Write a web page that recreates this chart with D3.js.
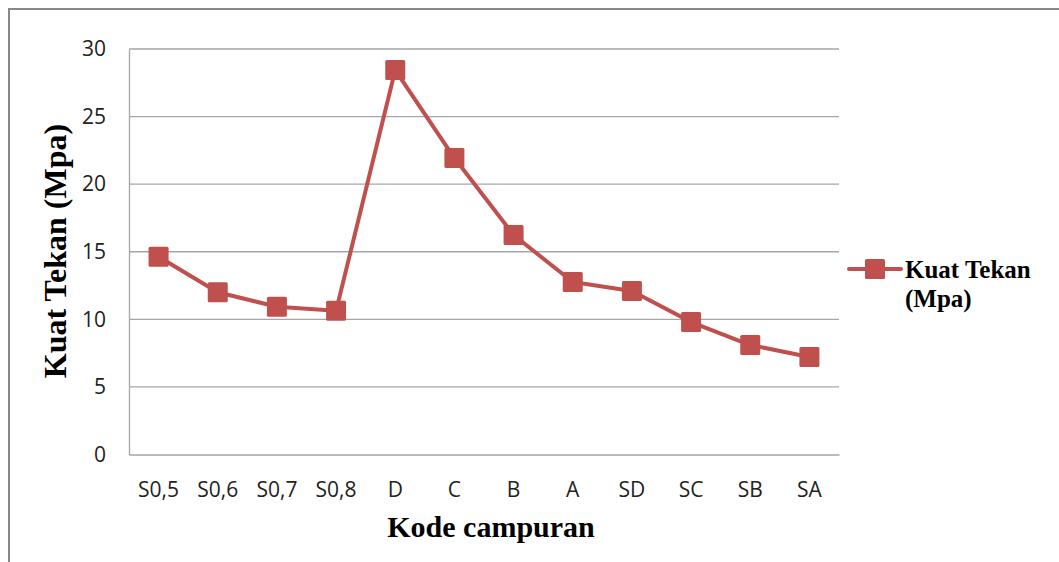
<!DOCTYPE html>
<meta charset="utf-8">
<style>
body { margin: 0; background: #fff; }
.tick text { font-family: "Open Sans", "Noto Sans", sans-serif; font-size: 21px; fill: #222; }
.title { font-family: "Liberation Serif", "Times New Roman", serif; font-weight: bold; fill: #000; }
</style>
<body>
<svg width="1059" height="562"></svg>
<script src="https://cdnjs.cloudflare.com/ajax/libs/d3/7.8.5/d3.min.js"></script>
<script>

var kode = ["S0,5", "S0,6", "S0,7", "S0,8", "D", "C", "B", "A", "SD", "SC", "SB", "SA"];
var kuatTekan = [14.63, 12.0, 10.93, 10.64, 28.44, 21.93, 16.24, 12.76, 12.09, 9.8, 8.1, 7.21];
var yTicks = [0, 5, 10, 15, 20, 25, 30];

var svg = d3.select("svg");
var red = "#c0504d";

// outer chart frame
svg.append("rect")
  .attr("x", 9).attr("y", 9)
  .attr("width", 1070).attr("height", 580)
  .attr("fill", "none").attr("stroke", "#888").attr("stroke-width", 2);

var plotLeft = 129, plotRight = 839, plotTop = 49, plotBottom = 454.5;

var x = d3.scaleBand().domain(kode).range([plotLeft, plotRight]);
var y = d3.scaleLinear().domain([0, 30]).range([plotBottom, plotTop]);

// gridlines
svg.append("g").selectAll("line")
  .data(yTicks.slice(1))
  .enter().append("line")
  .attr("x1", plotLeft).attr("x2", plotRight)
  .attr("y1", d => y(d)).attr("y2", d => y(d))
  .attr("stroke", "#a6a6a6").attr("stroke-width", 1.3);

var yAxis = svg.append("g")
  .attr("transform", "translate(" + plotLeft + ",0)")
  .call(d3.axisLeft(y).tickValues(yTicks).tickSize(0).tickPadding(23));
yAxis.select(".domain").attr("stroke", "#a6a6a6").attr("stroke-width", 1.3);

var xAxis = svg.append("g")
  .attr("transform", "translate(0," + plotBottom + ")")
  .call(d3.axisBottom(x).tickSize(0).tickPadding(28));
xAxis.select(".domain").attr("stroke", "#a6a6a6").attr("stroke-width", 1.3);

// series line
var line = d3.line()
  .x((d, i) => x(kode[i]) + x.bandwidth() / 2)
  .y(d => y(d));

svg.append("path")
  .datum(kuatTekan)
  .attr("d", line)
  .attr("fill", "none")
  .attr("stroke", red)
  .attr("stroke-width", 4)
  .attr("stroke-linejoin", "round");

var ms = 20;
svg.append("g").selectAll("rect")
  .data(kuatTekan)
  .enter().append("rect")
  .attr("x", (d, i) => x(kode[i]) + x.bandwidth() / 2 - ms / 2)
  .attr("y", d => y(d) - ms / 2)
  .attr("width", ms).attr("height", ms)
  .attr("rx", 1.5)
  .attr("fill", red);

// axis titles
svg.append("text")
  .attr("class", "title")
  .attr("x", 491).attr("y", 537)
  .attr("text-anchor", "middle")
  .style("font-size", "30px")
  .text("Kode campuran");

svg.append("text")
  .attr("class", "title")
  .attr("transform", "translate(66,251) rotate(-90)")
  .attr("text-anchor", "middle")
  .style("font-size", "32px")
  .text("Kuat Tekan (Mpa)");

// legend
var lg = svg.append("g").attr("transform", "translate(849,269)");
lg.append("line").attr("x1", 0).attr("x2", 52).attr("y1", 0).attr("y2", 0)
  .attr("stroke", red).attr("stroke-width", 4).attr("stroke-linecap", "round");
lg.append("rect").attr("x", 16).attr("y", -10).attr("width", 20).attr("height", 20)
  .attr("rx", 1.5).attr("fill", red);
lg.append("text").attr("class", "title").attr("x", 56).attr("y", 9)
  .style("font-size", "25px").text("Kuat Tekan");
lg.append("text").attr("class", "title").attr("x", 56).attr("y", 38)
  .style("font-size", "25px").text("(Mpa)");

</script>
